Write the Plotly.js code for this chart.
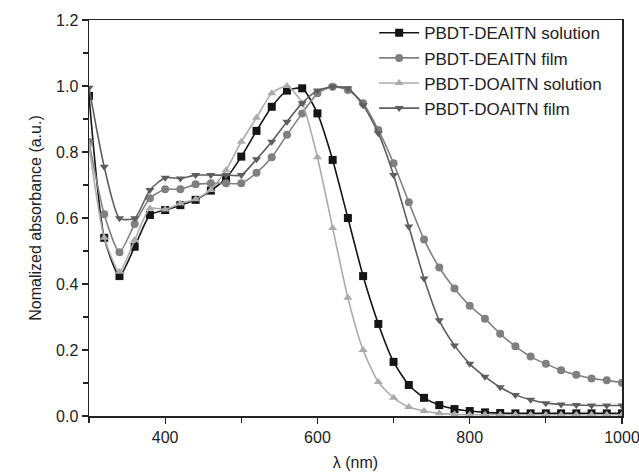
<!DOCTYPE html>
<html>
<head>
<meta charset="utf-8">
<script src="https://cdn.plot.ly/plotly-3.0.1.min.js"></script>
<style>html,body{margin:0;padding:0;background:#fff}#chart{width:639px;height:474px}</style>
</head>
<body>
<div id="chart"></div>
<script>
const wavelength = [300,320,340,360,380,400,420,440,460,480,500,520,540,560,580,600,620,640,660,680,700,720,740,760,780,800,820,840,860,880,900,920,940,960,980,1000];
const deaitnSolution = [0.97,0.54,0.424,0.513,0.609,0.624,0.639,0.655,0.683,0.72,0.786,0.864,0.937,0.986,0.993,0.917,0.776,0.60,0.424,0.279,0.164,0.094,0.055,0.033,0.021,0.015,0.011,0.009,0.008,0.008,0.008,0.008,0.008,0.008,0.008,0.008];
const deaitnFilm = [0.83,0.611,0.496,0.582,0.66,0.687,0.687,0.702,0.705,0.705,0.705,0.737,0.784,0.852,0.917,0.978,0.998,0.988,0.948,0.867,0.766,0.648,0.535,0.45,0.386,0.334,0.295,0.249,0.211,0.18,0.158,0.139,0.125,0.114,0.108,0.101];
const doaitnSolution = [0.82,0.54,0.437,0.533,0.629,0.626,0.644,0.657,0.685,0.745,0.831,0.904,0.978,1.0,0.948,0.784,0.57,0.358,0.2,0.103,0.055,0.027,0.015,0.008,0.005,0.004,0.004,0.004,0.004,0.004,0.004,0.004,0.004,0.004,0.004,0.004];
const doaitnFilm = [0.995,0.755,0.599,0.599,0.685,0.722,0.72,0.73,0.73,0.73,0.73,0.778,0.831,0.892,0.948,0.986,0.998,0.993,0.942,0.857,0.73,0.574,0.417,0.29,0.214,0.158,0.119,0.087,0.064,0.049,0.039,0.035,0.033,0.032,0.032,0.032];
const seriesNames = ['PBDT-DEAITN solution','PBDT-DEAITN film','PBDT-DOAITN solution','PBDT-DOAITN film'];

const styles = [
  {color:'#151515', symbol:'square'},
  {color:'#808080', symbol:'circle'},
  {color:'#ababab', symbol:'triangle-up'},
  {color:'#5e5e5e', symbol:'triangle-down'}
];
const ys = [deaitnSolution, deaitnFilm, doaitnSolution, doaitnFilm];
const traces = ys.map((y,i)=>({
  x: wavelength, y: y, name: seriesNames[i], type:'scatter', mode:'lines+markers',
  line:{color:styles[i].color, width:1.6, shape:'spline', smoothing:0.6},
  marker:{color:styles[i].color, symbol:styles[i].symbol, size:8}
}));

const font = {family:'"Liberation Sans", Arial, sans-serif', color:'#222'};
const layout = {
  width:639, height:474,
  margin:{l:89, r:17, t:20, b:58},
  paper_bgcolor:'#fff', plot_bgcolor:'#fff',
  font:Object.assign({size:16}, font),
  showlegend:true,
  legend:{x:0.535, y:1.012, xanchor:'left', yanchor:'top', bgcolor:'rgba(0,0,0,0)', font:Object.assign({size:17}, font), tracegroupgap:0, itemwidth:40},
  xaxis:{
    range:[300,1000], dtick:200, tick0:0, ticks:'outside', ticklen:6, tickwidth:1.2, tickcolor:'#222',
    showline:true, linecolor:'#222', linewidth:1.5, mirror:true, showgrid:false, zeroline:false,
    ticklabeloverflow:'allow',
    minor:{dtick:100, ticks:'outside', ticklen:5, tickcolor:'#222', showgrid:false},
    tickfont:Object.assign({size:16}, font),
    title:{text:'λ (nm)', font:Object.assign({size:16}, font), standoff:12}
  },
  yaxis:{
    range:[0,1.2], dtick:0.2, tick0:0, tickformat:'.1f', ticks:'outside', ticklen:6, tickwidth:1.2, tickcolor:'#222',
    showline:true, linecolor:'#222', linewidth:1.5, mirror:true, showgrid:false, zeroline:false,
    minor:{dtick:0.1, ticks:'outside', ticklen:5, tickcolor:'#222', showgrid:false},
    tickfont:Object.assign({size:16}, font),
    title:{text:'Nomalized absorbance (a.u.)', font:Object.assign({size:16}, font), standoff:10}
  }
};
Plotly.newPlot('chart', traces, layout, {displayModeBar:false, staticPlot:true});
</script>
</body>
</html>
